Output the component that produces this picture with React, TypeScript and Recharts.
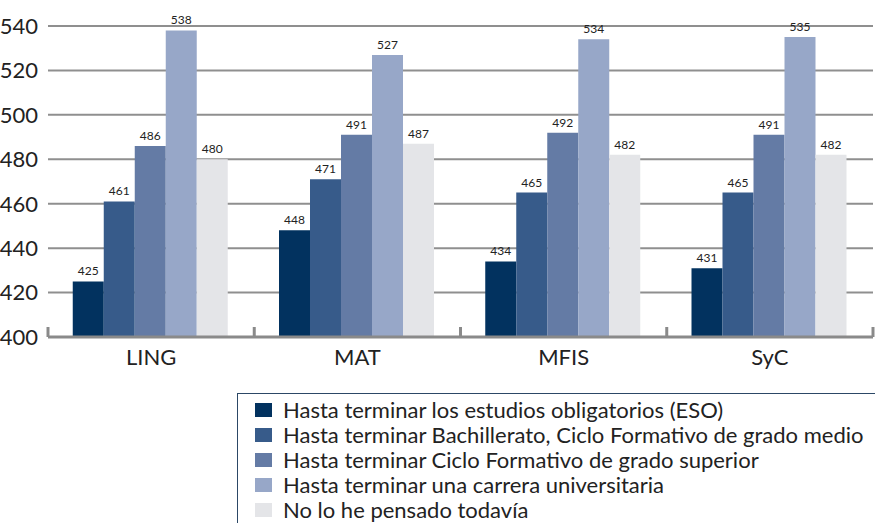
import { Bar, BarChart, CartesianGrid, LabelList, XAxis, YAxis } from "recharts"

const subjects = ["LING", "MAT", "MFIS", "SyC"]
const seriesNames = [
  "Hasta terminar los estudios obligatorios (ESO)",
  "Hasta terminar Bachillerato, Ciclo Formativo de grado medio",
  "Hasta terminar Ciclo Formativo de grado superior",
  "Hasta terminar una carrera universitaria",
  "No lo he pensado todavía",
]
const eso = [425, 448, 434, 431]
const bachillerato = [461, 471, 465, 465]
const cicloSuperior = [486, 491, 492, 491]
const universidad = [538, 527, 534, 535]
const noPensado = [480, 487, 482, 482]
const yTicks = [400, 420, 440, 460, 480, 500, 520, 540]
const colors = ["#02325f", "#375b8a", "#647ba5", "#97a7c8", "#e4e5e8"]

const seriesValues = [eso, bachillerato, cicloSuperior, universidad, noPensado]
const data = subjects.map((s, i) => {
  const row: Record<string, string | number> = { subject: s }
  seriesValues.forEach((vals, k) => {
    row["s" + k] = vals[i]
  })
  return row
})

const font = "Lato, 'Open Sans', sans-serif"
const W = 875
const LEFT = 48
const RIGHT = 2
const band = (W - LEFT - RIGHT) / subjects.length

// category label plus the small upward ticks at the band edges
function SubjectTick(props: any) {
  const { x, y, payload, index } = props
  const half = payload?.offset || band / 2
  const axisY = y - 12
  return (
    <g>
      <line x1={x - half} x2={x - half} y1={axisY} y2={axisY - 10} stroke="#8a8a8a" strokeWidth={3} />
      {index === subjects.length - 1 && (
        <line x1={x + half} x2={x + half} y1={axisY} y2={axisY - 10} stroke="#8a8a8a" strokeWidth={3} />
      )}
      <text x={x} y={y} dy="0.71em" textAnchor="middle" fontSize={22} fill="#222" fontFamily={font}>
        {payload.value}
      </text>
    </g>
  )
}

export default function App() {
  return (
    <div style={{ position: "absolute", left: 0, top: 0, width: W, height: 523, background: "#fff", fontFamily: font }}>
      <BarChart
        width={W}
        height={390}
        data={data}
        margin={{ top: 26, right: RIGHT, left: 0, bottom: 0 }}
        barGap={0}
        barCategoryGap="12%"
      >
        <CartesianGrid vertical={false} stroke="#8f8f8f" strokeWidth={2} />
        <YAxis
          domain={[400, 540]}
          ticks={yTicks}
          width={LEFT}
          axisLine={false}
          tickLine={false}
          tickMargin={4}
          tick={{ fontSize: 22, fill: "#222", fontFamily: font }}
        />
        {seriesNames.map((name, k) => (
          <Bar key={name} dataKey={"s" + k} name={name} fill={colors[k]} isAnimationActive={false}>
            <LabelList dataKey={"s" + k} position="top" offset={6} style={{ fontSize: 12, fill: "#222", fontFamily: font }} />
          </Bar>
        ))}
        <XAxis
          dataKey="subject"
          height={53}
          axisLine={{ stroke: "#8a8a8a", strokeWidth: 3 }}
          tickLine={false}
          tickSize={0}
          tickMargin={12}
          interval={0}
          tick={<SubjectTick />}
        />
      </BarChart>
      <div
        style={{
          position: "absolute",
          left: 237,
          top: 393,
          width: 640,
          height: 132,
          borderLeft: "1.5px solid #2c4866",
          borderTop: "1.5px solid #2c4866",
          boxSizing: "border-box",
          paddingTop: 3,
          paddingLeft: 17,
        }}
      >
        {seriesNames.map((name, k) => (
          <div key={name} style={{ display: "flex", alignItems: "center", height: 25, fontSize: 22, color: "#222", whiteSpace: "nowrap" }}>
            <span style={{ display: "inline-block", width: 17, height: 14, background: colors[k], marginRight: 11 }} />
            {name}
          </div>
        ))}
      </div>
    </div>
  )
}
